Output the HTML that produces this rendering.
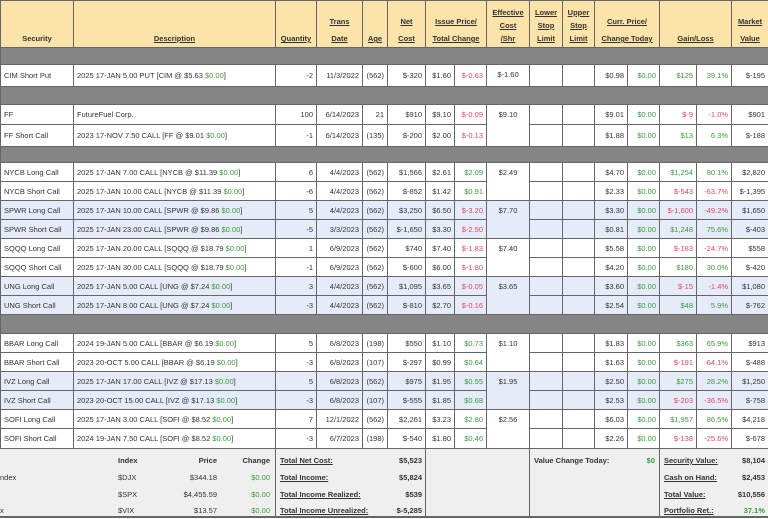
<!DOCTYPE html>
<html><head><meta charset="utf-8"><style>
*{box-sizing:border-box;margin:0;padding:0}
body{width:768px;height:519px;overflow:hidden;background:#fff;font-family:"Liberation Sans",sans-serif;font-size:7.5px;color:#333;position:relative}
table{border-collapse:collapse;table-layout:fixed;width:768px;position:absolute;left:0;top:0}
td,th{border:1px solid #666;padding:0 3px;white-space:nowrap;overflow:hidden;text-align:right}
th{background:#fbe3a9;font-weight:bold;text-align:center;vertical-align:bottom;padding-bottom:0px;line-height:17px}
th u{color:#333}
.sep td{background:#858585;border-color:#666}
.blue td{background:#e6ebfa}
.l{text-align:left}
.g{color:#3b9a3b}.r{color:#e0485c}
#foot{position:absolute;left:0;top:448px;width:768px;height:70px;background:#efefef;border-top:1px solid #666;border-bottom:2px solid #666}
#foot .v{position:absolute;top:0;height:68px;border-left:1px solid #666}
#foot span{position:absolute;white-space:nowrap}
.b{font-weight:bold}.u{text-decoration:underline}
</style></head><body>
<table>
<colgroup><col style="width:73px"><col style="width:202px"><col style="width:41px"><col style="width:46px"><col style="width:25px"><col style="width:38px"><col style="width:29px"><col style="width:32px"><col style="width:43px"><col style="width:33px"><col style="width:32px"><col style="width:33px"><col style="width:32px"><col style="width:37px"><col style="width:35px"><col style="width:37px"></colgroup>
<thead><tr style="height:47px">
<th>Security</th>
<th><u>Description</u></th>
<th><u>Quantity</u></th>
<th><u>Trans<br>Date</u></th>
<th><u>Age</u></th>
<th><u>Net<br>Cost</u></th>
<th colspan="2"><u>Issue Price/<br>Total Change</u></th>
<th style="line-height:13px;padding-bottom:2px"><u>Effective<br>Cost<br>/Shr</u></th>
<th style="line-height:13px;padding-bottom:2px"><u>Lower<br>Stop<br>Limit</u></th>
<th style="line-height:13px;padding-bottom:2px"><u>Upper<br>Stop<br>Limit</u></th>
<th colspan="2"><u>Curr. Price/<br>Change Today</u></th>
<th colspan="2"><u>Gain/Loss</u></th>
<th><u>Market<br>Value</u></th>
</tr></thead>
<tbody id="tb"></tbody></table>
<div id="foot">
<div class="v" style="left:275px"></div><div class="v" style="left:425px"></div><div class="v" style="left:529px"></div><div class="v" style="left:659px"></div>
<span class="b" style="left:118px;top:7px">Index</span>
<span class="b" style="right:551px;top:7px">Price</span>
<span class="b" style="right:498px;top:7px">Change</span>
<span style="left:0;top:24px">ndex</span><span style="left:0;top:57px">x</span>
<span style="left:118px;top:24px">$DJX</span>
<span style="left:118px;top:41px">$SPX</span>
<span style="left:118px;top:57px">$VIX</span>
<span style="right:551px;top:24px">$344.18</span><span style="right:551px;top:41px">$4,455.59</span><span style="right:551px;top:57px">$13.57</span>
<span class="g" style="right:498px;top:24px">$0.00</span><span class="g" style="right:498px;top:41px">$0.00</span><span class="g" style="right:498px;top:57px">$0.00</span>
<span class="b u" style="left:280px;top:7px">Total Net Cost:</span>
<span class="b u" style="left:280px;top:24px">Total Income:</span>
<span class="b u" style="left:280px;top:41px">Total Income Realized:</span>
<span class="b u" style="left:280px;top:57px">Total Income Unrealized:</span>
<span class="b" style="right:346px;top:7px">$5,523</span><span class="b" style="right:346px;top:24px">$5,824</span><span class="b" style="right:346px;top:41px">$539</span><span class="b" style="right:346px;top:57px">$-5,285</span>
<span class="b" style="left:534px;top:7px">Value Change Today:</span>
<span class="b g" style="right:113px;top:7px">$0</span>
<span class="b u" style="left:664px;top:7px">Security Value:</span>
<span class="b u" style="left:664px;top:24px">Cash on Hand:</span>
<span class="b u" style="left:664px;top:41px">Total Value:</span>
<span class="b u" style="left:664px;top:57px">Portfolio Ret.:</span>
<span class="b" style="right:3px;top:7px">$8,104</span><span class="b" style="right:3px;top:24px">$2,453</span><span class="b" style="right:3px;top:41px">$10,556</span><span class="b g" style="right:3px;top:57px">37.1%</span>
</div>
<script>
// [security, description, underlying, qty, date, age, net, issue, totalChg, eff, curr, gl, pct, mv, blue, height, effMode]
const rows = [
 ['SEP',17],
 ['CIM Short Put','2025 17-JAN 5.00 PUT','CIM @ $5.63','-2','11/3/2022','(562)','$-320','$1.60','$-0.63','$-1.60','$0.98','$125','39.1%','$-195',0,22,1],
 ['SEP',18],
 ['FF','FutureFuel Corp.','','100','6/14/2023','21','$910','$9.10','$-0.09','$9.10','$9.01','$-9','-1.0%','$901',0,20,2],
 ['FF Short Call','2023 17-NOV 7.50 CALL','FF @ $9.01','-1','6/14/2023','(135)','$-200','$2.00','$-0.13',null,'$1.88','$13','6.3%','$-188',0,22,0],
 ['SEP',16],
 ['NYCB Long Call','2025 17-JAN 7.00 CALL','NYCB @ $11.39','6','4/4/2023','(562)','$1,566','$2.61','$2.09','$2.49','$4.70','$1,254','80.1%','$2,820',0,19,2],
 ['NYCB Short Call','2025 17-JAN 10.00 CALL','NYCB @ $11.39','-6','4/4/2023','(562)','$-852','$1.42','$0.91',null,'$2.33','$-543','-63.7%','$-1,395',0,19,0],
 ['SPWR Long Call','2025 17-JAN 10.00 CALL','SPWR @ $9.86','5','4/4/2023','(562)','$3,250','$6.50','$-3.20','$7.70','$3.30','$-1,600','-49.2%','$1,650',1,19,2],
 ['SPWR Short Call','2025 17-JAN 23.00 CALL','SPWR @ $9.86','-5','3/3/2023','(562)','$-1,650','$3.30','$-2.50',null,'$0.81','$1,248','75.6%','$-403',1,19,0],
 ['SQQQ Long Call','2025 17-JAN 20.00 CALL','SQQQ @ $18.79','1','6/9/2023','(562)','$740','$7.40','$-1.83','$7.40','$5.58','$-183','-24.7%','$558',0,19,2],
 ['SQQQ Short Call','2025 17-JAN 30.00 CALL','SQQQ @ $18.79','-1','6/9/2023','(562)','$-600','$6.00','$-1.80',null,'$4.20','$180','30.0%','$-420',0,19,0],
 ['UNG Long Call','2025 17-JAN 5.00 CALL','UNG @ $7.24','3','4/4/2023','(562)','$1,095','$3.65','$-0.05','$3.65','$3.60','$-15','-1.4%','$1,080',1,19,2],
 ['UNG Short Call','2025 17-JAN 8.00 CALL','UNG @ $7.24','-3','4/4/2023','(562)','$-810','$2.70','$-0.16',null,'$2.54','$48','5.9%','$-762',1,19,0],
 ['SEP',19],
 ['BBAR Long Call','2024 19-JAN 5.00 CALL','BBAR @ $6.19','5','6/8/2023','(198)','$550','$1.10','$0.73','$1.10','$1.83','$363','65.9%','$913',0,19,2],
 ['BBAR Short Call','2023 20-OCT 5.00 CALL','BBAR @ $6.19','-3','6/8/2023','(107)','$-297','$0.99','$0.64',null,'$1.63','$-191','-64.1%','$-488',0,19,0],
 ['IVZ Long Call','2025 17-JAN 17.00 CALL','IVZ @ $17.13','5','6/8/2023','(562)','$975','$1.95','$0.55','$1.95','$2.50','$275','28.2%','$1,250',1,19,2],
 ['IVZ Short Call','2023 20-OCT 15.00 CALL','IVZ @ $17.13','-3','6/8/2023','(107)','$-555','$1.85','$0.68',null,'$2.53','$-203','-36.5%','$-758',1,19,0],
 ['SOFI Long Call','2025 17-JAN 3.00 CALL','SOFI @ $8.52','7','12/1/2022','(562)','$2,261','$3.23','$2.80','$2.56','$6.03','$1,957','86.5%','$4,218',0,19,2],
 ['SOFI Short Call','2024 19-JAN 7.50 CALL','SOFI @ $8.52','-3','6/7/2023','(198)','$-540','$1.80','$0.46',null,'$2.26','$-138','-25.6%','$-678',0,20,0]
];
const tb=document.getElementById('tb');
function cell(tr,html,cls){const td=document.createElement('td');td.innerHTML=html;if(cls)td.className=cls;tr.appendChild(td);return td;}
function sc(v){return v.indexOf('-')>=0?'r':'g';}
rows.forEach(r=>{
  const tr=document.createElement('tr');
  if(r[0]==='SEP'){
    tr.className='sep';tr.style.height=r[1]+'px';
    
    
    const td=cell(tr,'&nbsp;');td.colSpan=16;tb.appendChild(tr);return;
  }
  if(r[14])tr.className='blue';
  tr.style.height=r[15]+'px';
  
  
  cell(tr,r[0],'l');
  cell(tr,r[1]+(r[2]?' ['+r[2]+' <span class="g">$0.00</span>]':''),'l');
  cell(tr,r[3]);cell(tr,r[4]);cell(tr,r[5]);cell(tr,r[6]);cell(tr,r[7]);
  cell(tr,r[8],sc(r[8]));
  if(r[16]){const e=cell(tr,r[9]);e.style.verticalAlign='top';e.style.paddingTop='5px';e.style.textAlign='center';if(r[16]===2)e.rowSpan=2;}
  cell(tr,'');cell(tr,'');
  cell(tr,r[10]);cell(tr,'$0.00','g');
  cell(tr,r[11],sc(r[11]));cell(tr,r[12],sc(r[12]));cell(tr,r[13]);
  tb.appendChild(tr);
});
</script>
</body></html>
